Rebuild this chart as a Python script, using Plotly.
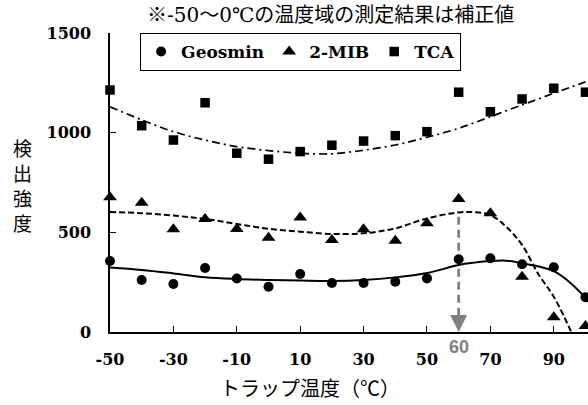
import plotly.graph_objects as go

# measured data
temps = [-50, -40, -30, -20, -10, 0, 10, 20, 30, 40, 50, 60, 70, 80, 90, 100]
geosmin = [356, 261, 241, 321, 268, 227, 291, 246, 246, 252, 269, 365, 370, 340, 325, 174]
mib = [676, 649, 515, 567, 517, 473, 574, 462, 515, 458, 545, 667, 596, 277, 74, 30]
tca = [1214, 1035, 963, 1150, 897, 867, 905, 937, 958, 985, 1005, 1203, 1105, 1169, 1223, 1203]

# trend curves
trend_temps = [-50, -40, -30, -20, -10, 0, 10, 20, 30, 40, 50, 60, 65, 70, 75, 80, 85, 90, 95, 100]
geosmin_trend = [323, 311, 294, 275, 266, 261, 258, 256, 261, 274, 296, 336, 348, 356, 358, 345, 330, 305, 250, 172]
mib_trend = [602, 596, 584, 567, 542, 518, 503, 492, 495, 520, 570, 600, 601, 587, 528, 437, 294, 177, 18, -170]
tca_trend = [1130, 1064, 1005, 963, 930, 910, 897, 894, 912, 938, 977, 1022, 1050, 1080, 1110, 1139, 1168, 1198, 1226, 1255]

xtick_vals = [-50, -30, -10, 10, 30, 50, 70, 90]
ytick_vals = [0, 500, 1000, 1500]
marked_temp = 60
arrow_top = 578

note = "※-50～0℃の温度域の測定結果は補正値"
xtitle = "トラップ温度（℃）"
ytitle_chars = ["検", "出", "強", "度"]

serif = "DejaVu Serif"
cjk = "Noto Sans CJK JP"

fig = go.Figure()
fig.add_trace(go.Scatter(x=trend_temps, y=geosmin_trend, mode="lines", line_shape="spline",
                         line=dict(color="black", width=2), showlegend=False, hoverinfo="skip"))
fig.add_trace(go.Scatter(x=trend_temps, y=mib_trend, mode="lines", line_shape="spline",
                         line=dict(color="black", width=2, dash="6px,3px"), showlegend=False, hoverinfo="skip"))
fig.add_trace(go.Scatter(x=trend_temps, y=tca_trend, mode="lines", line_shape="spline",
                         line=dict(color="black", width=1.7, dash="8px,4px,2px,4px"), showlegend=False,
                         hoverinfo="skip"))

# gray dashed arrow at 60 degC
fig.add_trace(go.Scatter(x=[marked_temp, marked_temp], y=[arrow_top, 55], mode="lines",
                         line=dict(color="#808080", width=2.8, dash="8px,5px"),
                         showlegend=False, hoverinfo="skip"))
fig.add_annotation(x=marked_temp, y=0, xref="x", yref="y", ax=0, ay=-16, text="", showarrow=True,
                   arrowhead=2, arrowsize=1.3, arrowwidth=2.6, arrowcolor="#808080", standoff=0)

fig.add_trace(go.Scatter(x=temps, y=geosmin, mode="markers", name="Geosmin",
                         marker=dict(symbol="circle", size=10, color="black"), cliponaxis=False))
fig.add_trace(go.Scatter(x=temps, y=mib, mode="markers", name="2-MIB",
                         marker=dict(symbol="triangle-up", size=12, color="black"), cliponaxis=False))
fig.add_trace(go.Scatter(x=temps, y=tca, mode="markers", name="TCA",
                         marker=dict(symbol="square", size=9.5, color="black"), cliponaxis=False))

fig.add_annotation(x=marked_temp, y=0, xref="x", yref="y", yshift=-15, text="60", showarrow=False,
                   yanchor="middle", xanchor="center",
                   font=dict(family="Liberation Sans", size=18, color="#808080", weight="bold"))

# note at top
fig.add_annotation(x=0.5, y=1.0, xref="paper", yref="paper", xanchor="center", yanchor="middle",
                   xshift=-19, yshift=18, text=note, showarrow=False,
                   font=dict(family=serif + ", " + cjk, size=20, color="black"))

# vertical y-axis title (stacked characters)
for i, ch in enumerate(ytitle_chars):
    fig.add_annotation(x=0, y=1.0, xref="paper", yref="paper", xanchor="center", yanchor="middle",
                       xshift=-88, yshift=-114 - 25 * i, text=ch, showarrow=False,
                       font=dict(family=cjk, size=19, color="black"))

# x-axis title
fig.add_annotation(x=0, y=0, xref="paper", yref="paper", xanchor="center", yanchor="middle",
                   xshift=200, yshift=-55, text=xtitle, showarrow=False,
                   font=dict(family=cjk, size=20, color="black"))

fig.update_layout(
    width=588, height=405,
    margin=dict(l=110, r=0, t=33, b=73),
    paper_bgcolor="white", plot_bgcolor="white",
    showlegend=True,
    legend=dict(orientation="h", x=0.063, y=1.0, xanchor="left", yanchor="top",
                bordercolor="black", borderwidth=1, bgcolor="white",
                font=dict(family=serif, size=17, color="black", weight="bold"),
                itemwidth=30, tracegroupgap=0),
    xaxis=dict(range=[-50, 100.8], tickvals=xtick_vals, ticktext=[str(v) for v in xtick_vals],
               ticks="inside", ticklen=6, tickcolor="black", tickwidth=1,
               showline=True, linecolor="black", linewidth=1.5,
               showgrid=False, zeroline=False, automargin=False,
               tickfont=dict(family=serif, size=16, color="black", weight="bold"),
               ticklabelstandoff=12),
    yaxis=dict(range=[0, 1500], tickvals=ytick_vals, ticks="inside", ticklen=6, tickcolor="black",
               tickwidth=1, showline=True, linecolor="black", linewidth=1.5, showgrid=False,
               zeroline=False, automargin=False,
               tickfont=dict(family=serif, size=16, color="black", weight="bold"), ticklabelstandoff=14),
)

page_fix = "document.body.style.margin='0';document.body.style.overflow='hidden';"
fig.write_html("out.html", post_script=page_fix, config={"displayModeBar": False})
